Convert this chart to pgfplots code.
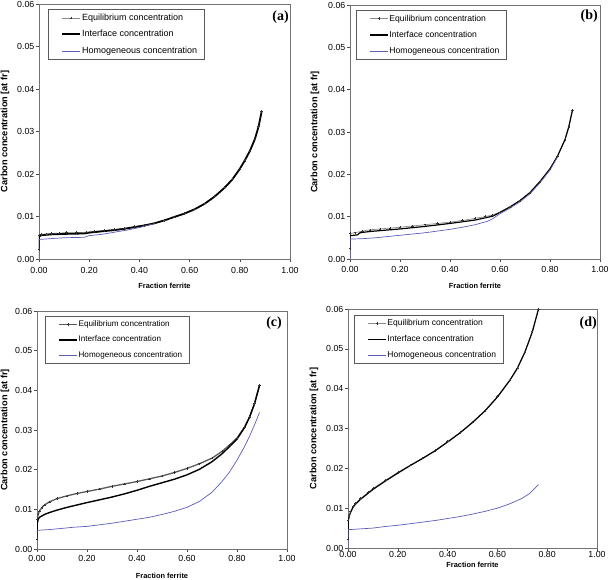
\documentclass[border=0pt]{standalone}
\usepackage{fontspec}
\setmainfont{Liberation Sans}
\newfontfamily\serifb{Liberation Serif}
\usepackage{pgfplots}
\pgfplotsset{compat=1.18}
\definecolor{homo}{rgb}{0.36,0.36,0.72}
\pgfplotsset{
  panel/.style={
    scale only axis,
    xmin=0, xmax=1, ymin=0, ymax=0.06,
    xtick={0,0.2,0.4,0.6,0.8,1},
    ytick={0,0.01,0.02,0.03,0.04,0.05,0.06},
    axis line style={black!55, line width=0.6pt},
    tick style={black!70, line width=0.6pt},
    tick align=outside, major tick length=3pt,
    xtick pos=bottom, ytick pos=left,
    scaled y ticks=false, scaled x ticks=false,
    xticklabel style={/pgf/number format/fixed, /pgf/number format/fixed zerofill, /pgf/number format/precision=2, /pgf/number format/assume math mode=true},
    yticklabel style={/pgf/number format/fixed, /pgf/number format/fixed zerofill, /pgf/number format/precision=2, /pgf/number format/assume math mode=true},
    ticklabel style={font=\fontsize{8.8}{10}\selectfont, inner sep=1.5pt},
    xlabel={Fraction ferrite},
    ylabel={Carbon concentration [at fr]},
    x label style={font=\bfseries\fontsize{7.4}{9}\selectfont, anchor=center},
    y label style={font=\bfseries\fontsize{9.2}{11}\selectfont, anchor=center},
    legend cell align=left,
    legend style={anchor=north west, draw=black!65, line width=0.5pt, fill=white,
      inner xsep=6pt, inner ysep=3.5pt, row sep=6.5pt,
      nodes={inner sep=1pt}},
  },
  eqp/.style={black!45, line width=0.7pt, mark=+, mark size=1.2pt, mark options={black!80, solid, line width=0.5pt},
    legend image code/.code={\path (0pt,0pt); \draw[mark repeat=2,mark phase=2,##1] plot coordinates {(7pt,0pt) (16pt,0pt) (25pt,0pt)};}},
  lnp/.style={legend image code/.code={\path (0pt,0pt); \draw[##1] (7pt,0pt) -- (25pt,0pt);}},
}
\begin{document}
\begin{tikzpicture}[x=1pt,y=1pt]
\useasboundingbox (0,0) rectangle (610,580);

% ---------------- (a) ----------------
\begin{axis}[panel, at={(39pt,321pt)}, anchor=south west, width=251pt, height=255pt,
  x label style={at={(axis description cs:0.5,-0.106)}},
  y label style={at={(axis description cs:-0.1355,0.5)}},
  xticklabel style={yshift=-3.5pt},
  legend style={at={(axis description cs:0.036,0.980)}, font=\fontsize{9}{10}\selectfont}]
\addplot[eqp] coordinates {(0,0.0022) (0,0.0056) (0.01,0.0058) (0.03,0.0059) (0.05,0.0060) (0.08,0.0061) (0.11,0.0062) (0.15,0.0062) (0.19,0.0063) (0.22,0.0065) (0.26,0.0067) (0.30,0.0069) (0.34,0.0072) (0.38,0.0076) (0.42,0.0079) (0.46,0.0084) (0.50,0.0091) (0.54,0.0099) (0.58,0.0107) (0.62,0.0117) (0.66,0.0130) (0.70,0.0147) (0.74,0.0168) (0.77,0.0187) (0.80,0.0212) (0.82,0.0232) (0.84,0.0254) (0.86,0.0282) (0.875,0.0312) (0.887,0.0347)};
\addlegendentry{Equilibrium concentration}
\addplot[lnp, black, line width=1.8pt] coordinates {(0,0.0022) (0,0.0053) (0.01,0.0056) (0.05,0.0058) (0.10,0.0059) (0.18,0.0060) (0.20,0.0062) (0.25,0.0065) (0.30,0.0068) (0.34,0.0071) (0.38,0.0075) (0.42,0.0079) (0.46,0.0084) (0.50,0.0091) (0.54,0.0099) (0.58,0.0107) (0.62,0.0117) (0.66,0.0130) (0.70,0.0147) (0.74,0.0168) (0.77,0.0187) (0.80,0.0212) (0.82,0.0232) (0.84,0.0254) (0.86,0.0282) (0.875,0.0312) (0.887,0.0347)};
\addlegendentry{Interface concentration}
\addplot[lnp, homo, line width=0.7pt] coordinates {(0,0) (0,0.0046) (0.05,0.0048) (0.10,0.0050) (0.18,0.0051) (0.20,0.0055) (0.25,0.0058) (0.30,0.0063) (0.35,0.0068) (0.40,0.0074) (0.45,0.0082)};
\addlegendentry{Homogeneous concentration}
\node[font=\serifb\bfseries\fontsize{14}{14}\selectfont, anchor=north east, inner sep=0pt] at (rel axis cs:0.996,0.976) {(a)};
\end{axis}

% ---------------- (b) ----------------
\begin{axis}[panel, at={(350pt,321pt)}, anchor=south west, width=250pt, height=254pt,
  x label style={at={(axis description cs:0.5,-0.106)}},
  y label style={at={(axis description cs:-0.14,0.5)}},
  xticklabel style={yshift=-2.5pt},
  legend style={at={(axis description cs:0.024,0.980)}, font=\fontsize{8.6}{10}\selectfont}]
\addplot[eqp] coordinates {(0,0.0025) (0,0.0060) (0.02,0.0062) (0.05,0.0066) (0.08,0.0069) (0.12,0.0071) (0.16,0.0073) (0.20,0.0075) (0.25,0.0078) (0.30,0.0081) (0.35,0.0084) (0.40,0.0087) (0.45,0.0091) (0.50,0.0096) (0.54,0.0100) (0.57,0.0104) (0.60,0.0111) (0.64,0.0123) (0.68,0.0138) (0.72,0.0157) (0.76,0.0183) (0.80,0.0213) (0.83,0.0243) (0.86,0.0282) (0.875,0.0312) (0.89,0.0352)};
\addlegendentry{Equilibrium concentration}
\addplot[lnp, black, line width=1.2pt] coordinates {(0,0.0022) (0,0.0055) (0.03,0.0057) (0.04,0.0062) (0.08,0.0065) (0.12,0.0067) (0.20,0.0071) (0.30,0.0077) (0.40,0.0084) (0.50,0.0092) (0.57,0.0101) (0.60,0.0110) (0.64,0.0123) (0.68,0.0138) (0.72,0.0157) (0.76,0.0183) (0.80,0.0213) (0.83,0.0243) (0.86,0.0282) (0.875,0.0312) (0.89,0.0352)};
\addlegendentry{Interface concentration}
\addplot[lnp, homo, line width=0.7pt] coordinates {(0,0) (0,0.0047) (0.05,0.0048) (0.10,0.0050) (0.15,0.0053) (0.20,0.0056) (0.25,0.0059) (0.30,0.0062) (0.35,0.0066) (0.40,0.0070) (0.45,0.0075) (0.50,0.0081) (0.55,0.0089) (0.57,0.0095) (0.60,0.0107) (0.64,0.0120) (0.68,0.0135) (0.72,0.0154) (0.76,0.0180) (0.80,0.0210) (0.83,0.0241)};
\addlegendentry{Homogeneous concentration}
\node[font=\serifb\bfseries\fontsize{14}{14}\selectfont, anchor=north east, inner sep=0pt] at (rel axis cs:0.992,0.980) {(b)};
\end{axis}

% ---------------- (c) ----------------
\begin{axis}[panel, at={(37pt,31pt)}, anchor=south west, width=250pt, height=238pt,
  x label style={at={(axis description cs:0.5,-0.113)}},
  y label style={at={(axis description cs:-0.128,0.5)}},
  xticklabel style={yshift=-1.5pt},
  legend style={at={(axis description cs:0.032,0.979)}, font=\fontsize{8.1}{10}\selectfont, row sep=6pt}]
\addplot[eqp, black!65, line width=1.3pt] coordinates {(0,0.0025) (0.001,0.0075) (0.005,0.0088) (0.01,0.0096) (0.02,0.0105) (0.03,0.0111) (0.05,0.0119) (0.08,0.0127) (0.12,0.0134) (0.16,0.0140) (0.20,0.0145) (0.25,0.0151) (0.30,0.0158) (0.35,0.0164) (0.40,0.0170) (0.45,0.0177) (0.50,0.0184) (0.55,0.0193) (0.60,0.0203) (0.65,0.0215) (0.70,0.0229) (0.74,0.0246) (0.77,0.0262) (0.80,0.0280) (0.83,0.0307) (0.85,0.0333) (0.87,0.0367) (0.89,0.0413)};
\addlegendentry{Equilibrium concentration}
\addplot[lnp, black, line width=1.4pt] coordinates {(0,0.0022) (0.001,0.0065) (0.005,0.0075) (0.01,0.0080) (0.03,0.0087) (0.05,0.0092) (0.08,0.0098) (0.12,0.0105) (0.16,0.0111) (0.20,0.0117) (0.25,0.0124) (0.30,0.0131) (0.35,0.0139) (0.40,0.0148) (0.45,0.0158) (0.50,0.0167) (0.55,0.0176) (0.60,0.0187) (0.65,0.0201) (0.70,0.0220) (0.74,0.0240) (0.77,0.0258) (0.80,0.0277) (0.83,0.0306) (0.85,0.0332) (0.87,0.0366) (0.89,0.0412)};
\addlegendentry{Interface concentration}
\addplot[lnp, homo, line width=0.7pt] coordinates {(0,0) (0,0.0047) (0.05,0.0049) (0.10,0.0052) (0.15,0.0055) (0.20,0.0057) (0.25,0.0061) (0.30,0.0065) (0.35,0.0070) (0.40,0.0075) (0.45,0.0080) (0.50,0.0087) (0.55,0.0095) (0.60,0.0105) (0.65,0.0120) (0.70,0.0143) (0.74,0.0170) (0.77,0.0194) (0.80,0.0224) (0.83,0.0258) (0.85,0.0284) (0.87,0.0313) (0.89,0.0344)};
\addlegendentry{Homogeneous concentration}
\node[font=\serifb\bfseries\fontsize{14}{14}\selectfont, anchor=north east, inner sep=0pt] at (rel axis cs:0.980,0.975) {(c)};
\end{axis}

% ---------------- (d) ----------------
\begin{axis}[panel, at={(348pt,32pt)}, anchor=south west, width=249pt, height=239pt,
  x label style={at={(axis description cs:0.5,-0.071)}},
  y label style={at={(axis description cs:-0.1365,0.5)}},
  xticklabel style={yshift=1pt},
  legend style={at={(axis description cs:0.024,0.975)}, font=\fontsize{8.5}{10}\selectfont, row sep=6pt}]
\addplot[eqp] coordinates {(0,0.0022) (0.001,0.0070) (0.005,0.0082) (0.01,0.0091) (0.02,0.0104) (0.03,0.0112) (0.05,0.0124) (0.08,0.0139) (0.10,0.0149) (0.15,0.0170) (0.20,0.0190) (0.25,0.0208) (0.30,0.0226) (0.35,0.0245) (0.40,0.0267) (0.45,0.0290) (0.50,0.0316) (0.55,0.0345) (0.60,0.0380) (0.65,0.0422) (0.68,0.0452) (0.71,0.0492) (0.74,0.0543) (0.765,0.0600)};
\addlegendentry{Equilibrium concentration}
\addplot[lnp, black, line width=1.2pt] coordinates {(0,0.0022) (0.001,0.0068) (0.005,0.0080) (0.01,0.0089) (0.02,0.0102) (0.03,0.0110) (0.05,0.0122) (0.08,0.0137) (0.10,0.0147) (0.15,0.0168) (0.20,0.0188) (0.25,0.0207) (0.30,0.0225) (0.35,0.0244) (0.40,0.0266) (0.45,0.0289) (0.50,0.0315) (0.55,0.0344) (0.60,0.0379) (0.65,0.0421) (0.68,0.0451) (0.71,0.0491) (0.74,0.0542) (0.765,0.0600)};
\addlegendentry{Interface concentration}
\addplot[lnp, homo, line width=0.7pt] coordinates {(0,0) (0,0.0046) (0.05,0.0048) (0.10,0.0050) (0.15,0.0054) (0.20,0.0057) (0.25,0.0061) (0.30,0.0065) (0.35,0.0069) (0.40,0.0074) (0.45,0.0079) (0.50,0.0085) (0.55,0.0092) (0.60,0.0100) (0.65,0.0111) (0.70,0.0125) (0.73,0.0137) (0.765,0.0159)};
\addlegendentry{Homogeneous concentration}
\node[font=\serifb\bfseries\fontsize{14}{14}\selectfont, anchor=north east, inner sep=0pt] at (rel axis cs:1.0,0.967) {(d)};
\end{axis}
\end{tikzpicture}
\end{document}
